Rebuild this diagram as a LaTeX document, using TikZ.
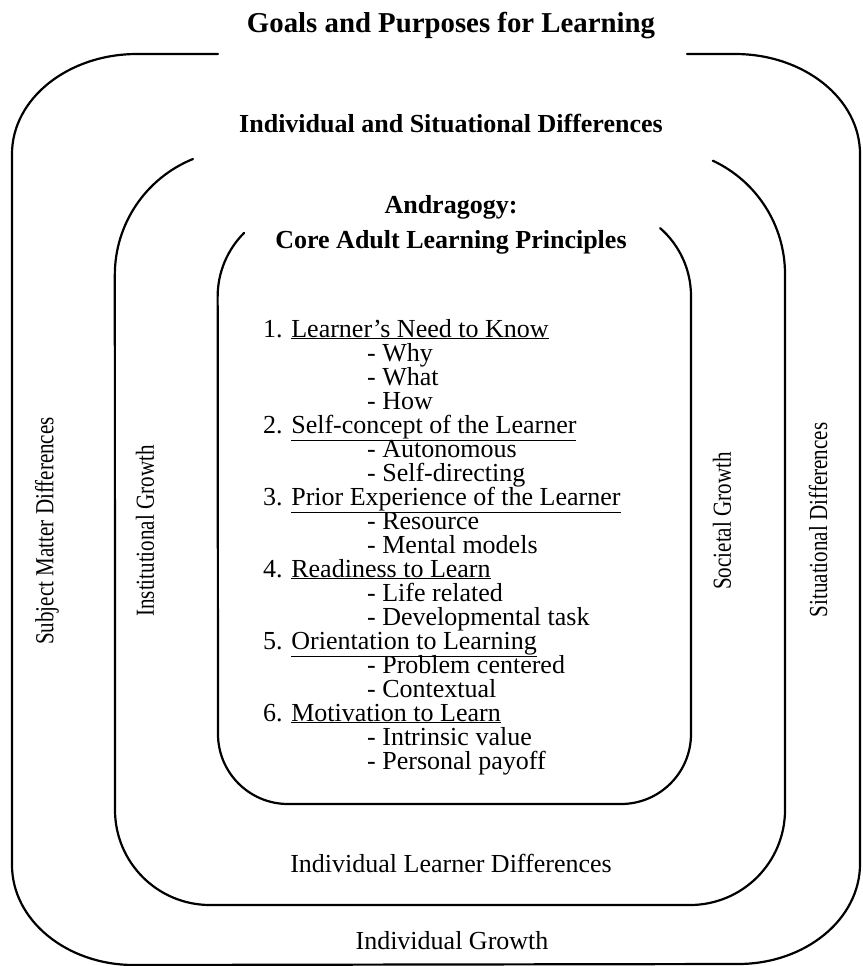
\documentclass[tikz,border=0pt]{standalone}
\usepackage{fontspec}
\usepackage{graphicx}
\setmainfont{Liberation Serif}
\begin{document}
\begin{tikzpicture}[x=1pt,y=-1pt,
  ln/.style={line width=2.2pt, black, line cap=round, line join=round},
  ttl/.style={inner sep=0pt, anchor=base, font=\fontsize{28.8}{30}\selectfont\bfseries},
  hdr/.style={inner sep=0pt, anchor=base, font=\fontsize{26}{28}\selectfont\bfseries},
  lbl/.style={inner sep=0pt, anchor=base, font=\fontsize{26}{28}\selectfont},
  lst/.style={inner sep=0pt, anchor=base west, font=\fontsize{26}{28}\selectfont},
  vert/.style={inner sep=0pt, anchor=center, rotate=90, font=\fontsize{26}{28}\selectfont}]
\useasboundingbox (0,0) rectangle (862,966);
% outer frame
\draw[ln] (218,54) -- (137,54)
  arc[start angle=90, end angle=180, x radius=125pt, y radius=100pt] -- (12,865)
  arc[start angle=180, end angle=270, x radius=122pt, y radius=100pt] -- (738,964)
  arc[start angle=270, end angle=360, x radius=122pt, y radius=100pt] -- (860,154)
  arc[start angle=0, end angle=90, x radius=125pt, y radius=100pt] -- (687,54);
% middle frame
\draw[ln] (193,159)
  arc[start angle=112, end angle=180, radius=125pt] -- (115,810)
  arc[start angle=180, end angle=270, radius=95pt] -- (690,905)
  arc[start angle=270, end angle=360, radius=95pt] -- (785,274)
  arc[start angle=0, end angle=65, radius=125pt];
% inner frame
\draw[ln] (244,233)
  arc[start angle=135, end angle=180, radius=90pt] -- (218,734)
  arc[start angle=180, end angle=270, radius=70pt] -- (621,804)
  arc[start angle=270, end angle=360, radius=70pt] -- (691,296)
  arc[start angle=0, end angle=49, radius=90pt];
% headings
\node[ttl] (goals) at (451,33) {Goals and Purposes for Learning};
\node[hdr] (isd) at (451,132) {Individual and Situational Differences};
\node[hdr] (andr) at (451,213) {Andragogy:};
\node[hdr] (core) at (451,248) {Core Adult Learning Principles};
% bottom labels
\node[lbl] (ild) at (451,872) {Individual Learner Differences};
\node[lbl] (ig) at (452,949) {Individual Growth};
% side labels
\node[vert] (smd) at (47,531) {\scalebox{0.81}[1]{Subject Matter Differences}};
\node[vert] (ing) at (145,531) {\scalebox{0.81}[1]{Institutional Growth}};
\node[vert] (sg) at (722,521) {\scalebox{0.81}[1]{Societal Growth}};
\node[vert] (sd) at (818,520) {\scalebox{0.81}[1]{Situational Differences}};
% list
\node[lst] (m1) at (263,337) {1. \underline{Learner’s Need to Know}};
\node[lst] (s1a) at (367,361) {- Why};
\node[lst] (s1b) at (367,385) {- What};
\node[lst] (s1c) at (367,409) {- How};
\node[lst] (m2) at (263,433) {2. \underline{Self-concept of the Learner}};
\node[lst] (s2a) at (367,457) {- Autonomous};
\node[lst] (s2b) at (367,481) {- Self-directing};
\node[lst] (m3) at (263,505) {3. \underline{Prior Experience of the Learner}};
\node[lst] (s3a) at (367,529) {- Resource};
\node[lst] (s3b) at (367,553) {- Mental models};
\node[lst] (m4) at (263,577) {4. \underline{Readiness to Learn}};
\node[lst] (s4a) at (367,601) {- Life related};
\node[lst] (s4b) at (367,625) {- Developmental task};
\node[lst] (m5) at (263,649) {5. \underline{Orientation to Learning}};
\node[lst] (s5a) at (367,673) {- Problem centered};
\node[lst] (s5b) at (367,697) {- Contextual};
\node[lst] (m6) at (263,721) {6. \underline{Motivation to Learn}};
\node[lst] (s6a) at (367,745) {- Intrinsic value};
\node[lst] (s6b) at (367,769) {- Personal payoff};
\end{tikzpicture}
\end{document}
